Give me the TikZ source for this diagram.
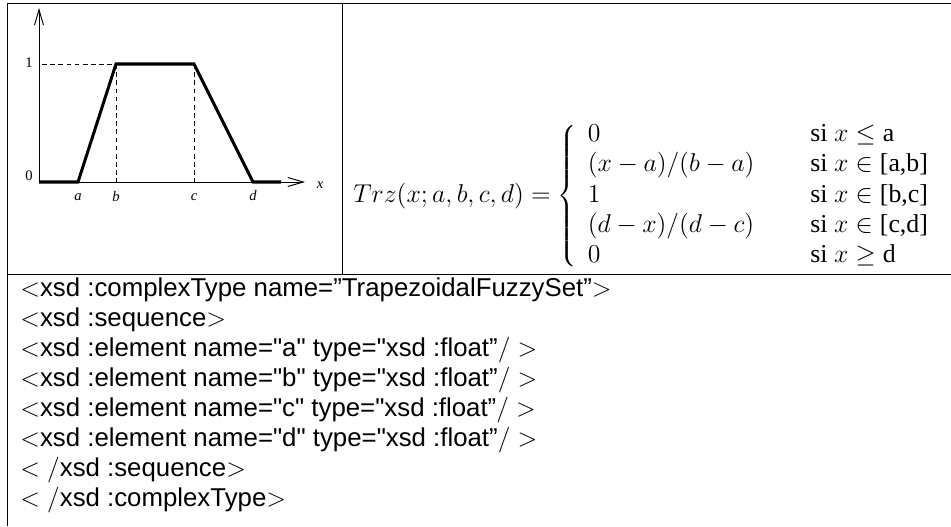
\documentclass[tikz,border=0pt]{standalone}
\usepackage{fontspec}
\newfontfamily\xsdfont{Liberation Sans}[Ligatures=TeXOff]
\newfontfamily\plotfont{Liberation Serif}
\newcommand{\tmtext}[1]{\mbox{\plotfont #1}}
\usetikzlibrary{arrows.meta}
\begin{document}
\begin{tikzpicture}[x=0.4651pt,y=-0.4651pt,
  rule/.style={line width=0.45pt},
  axisline/.style={line width=0.45pt,-{Straight Barb[length=7.2pt,width=4.2pt]}},
  curve/.style={line width=1.4pt,line join=miter},
  guide/.style={line width=0.4pt,dash pattern=on 2.2pt off 1.6pt},
  plotlbl/.style={inner sep=0pt,font=\plotfont\fontsize{6.8}{8}\selectfont},
  mathbox/.style={anchor=west,inner sep=0pt,font=\fontsize{12}{14}\selectfont},
  xsdline/.style={anchor=base west,inner sep=0pt,font=\xsdfont\fontsize{12}{14}\selectfont}]
\useasboundingbox (0,0) rectangle (951,526);
% table rules
\coordinate (tl) at (7,3.5);
\coordinate (tr) at (951,3.5);
\coordinate (bl) at (7,526);
\coordinate (mt) at (342,3.5);
\coordinate (mb) at (342,274);
\coordinate (hl) at (7,274);
\coordinate (hr) at (951,274);
\draw[rule] (bl) -- (tl) -- (tr);
\draw[rule] (mt) -- (mb);
\draw[rule] (hl) -- (hr);
% plot
\coordinate (O) at (39,182);
\coordinate (Ytop) at (39,8);
\coordinate (Xend) at (305,182);
\coordinate (A) at (78,182);
\coordinate (B) at (116,64);
\coordinate (C) at (194,64);
\coordinate (D) at (253,182);
\coordinate (E) at (281,182);
\coordinate (Bb) at (116,182);
\coordinate (Cb) at (194,182);
\coordinate (Y1) at (42,64);
\draw[axisline] (O) -- (Ytop);
\draw[axisline] (O) -- (Xend);
\draw[guide] (Y1) -- (B);
\draw[guide] (B) -- (Bb);
\draw[guide] (C) -- (Cb);
\draw[curve] (O) -- (A) -- (B) -- (C) -- (D) -- (E);
\node[plotlbl] (l1) at (29,63) {1};
\node[plotlbl] (l0) at (29,176) {0};
\node[plotlbl] (la) at (78,197) {\itshape a};
\node[plotlbl] (lb) at (116,196) {\itshape b};
\node[plotlbl] (lc) at (194,197) {\itshape c};
\node[plotlbl] (ld) at (253,196) {\itshape d};
\node[plotlbl] (lx) at (320,185) {\itshape x};
% formula
\node[mathbox] (trz) at (353,196)
 {$Trz(x;a,b,c,d) = \left\{ \begin{array}{l@{\hspace{26pt}}l}
   0 & \tmtext{si } x \leq \tmtext{a}\\
   (x-a)/(b-a) & \tmtext{si } x \in \tmtext{[a,b]}\\
   1 & \tmtext{si } x \in \tmtext{[b,c]}\\
   (d-x)/(d-c) & \tmtext{si } x \in \tmtext{[c,d]}\\
   0 & \tmtext{si } x \geq \tmtext{d}
 \end{array}\right.$};
% xsd text
\node[xsdline] (x1) at (20,296) {$<$xsd :complexType name=”TrapezoidalFuzzySet”$>$};
\node[xsdline] (x2) at (20,326.1) {$<$xsd :sequence$>$};
\node[xsdline] (x3) at (20,356.2) {$<$xsd :element name="a" type="xsd :float”$/>$};
\node[xsdline] (x4) at (20,386.3) {$<$xsd :element name="b" type="xsd :float”$/>$};
\node[xsdline] (x5) at (20,416.4) {$<$xsd :element name="c" type="xsd :float”$/>$};
\node[xsdline] (x6) at (20,446.5) {$<$xsd :element name="d" type="xsd :float”$/>$};
\node[xsdline] (x7) at (20,476.6) {$</$xsd :sequence$>$};
\node[xsdline] (x8) at (20,506.7) {$</$xsd :complexType$>$};
\end{tikzpicture}
\end{document}
